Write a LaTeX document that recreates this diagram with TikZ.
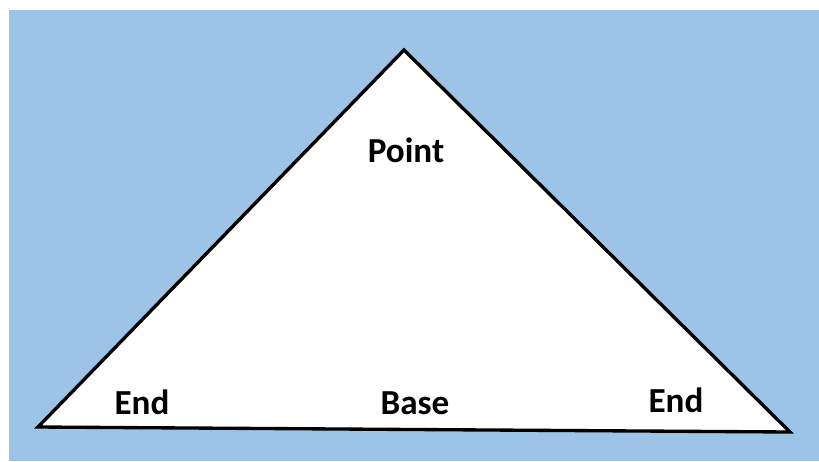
\documentclass[tikz,border=0pt]{standalone}
\usepackage{fontspec}
\setmainfont{Carlito}
\usepackage{xcolor}
\definecolor{skyblue}{RGB}{157,195,230}

\begin{document}
\begin{tikzpicture}[x=0.02cm, y=-0.02cm, every node/.style={font=\fontsize{20}{24}\selectfont\bfseries}]
    \useasboundingbox (0, 0) rectangle (819, 461);
    \fill[skyblue] (9, 10) rectangle (819, 461);
    \coordinate (apex) at (404, 50);
    \coordinate (left) at (38, 427);
    \coordinate (right) at (790, 432);
    \draw[line width=1.9pt, line join=miter, fill=white] (apex) -- (right) -- (left) -- cycle;
    \node (point) at (406, 150) {Point};
    \node (endl) at (142, 402) {End};
    \node (base) at (415, 403) {Base};
    \node (endr) at (676, 400) {End};
\end{tikzpicture}
\end{document}
